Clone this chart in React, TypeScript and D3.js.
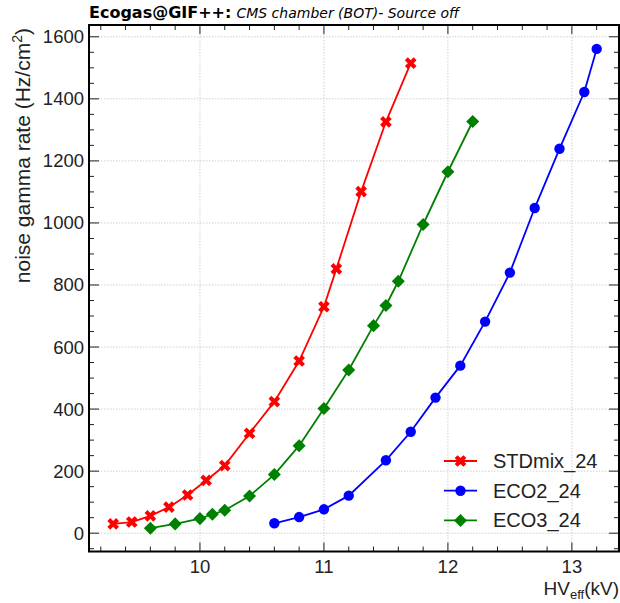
import React from 'react';
import * as d3 from 'd3';

// HV_eff (kV) and noise gamma rate (Hz/cm^2)
const stdHV = [9.3, 9.45, 9.6, 9.75, 9.9, 10.05, 10.2, 10.4, 10.6, 10.8, 11.0, 11.1, 11.3, 11.5, 11.7];
const stdRate = [30, 36, 56, 84, 123, 170, 218, 322, 424, 555, 730, 852, 1101, 1326, 1515];

const eco2HV = [10.6, 10.8, 11.0, 11.2, 11.5, 11.7, 11.9, 12.1, 12.3, 12.5, 12.7, 12.9, 13.1, 13.2];
const eco2Rate = [32, 52, 77, 121, 235, 327, 437, 540, 682, 840, 1048, 1239, 1422, 1561];

const eco3HV = [9.6, 9.8, 10.0, 10.1, 10.2, 10.4, 10.6, 10.8, 11.0, 11.2, 11.4, 11.5, 11.6, 11.8, 12.0, 12.2];
const eco3Rate = [16, 30, 47, 61, 74, 120, 189, 282, 402, 526, 669, 734, 812, 995, 1165, 1327];

const xTicks = [10, 11, 12, 13];
const yTicks = [0, 200, 400, 600, 800, 1000, 1200, 1400, 1600];

const W = 620, H = 603;
const left = 89, right = 619, top = 25, bottom = 551.5;

export default function App() {
  const x = d3.scaleLinear().domain([9.105, 13.38]).range([left, right]);
  const y = d3.scaleLinear().domain([-59, 1638]).range([bottom, top]);

  const xMinor = d3.range(9.2, 13.3, 0.2).filter(v => Math.abs(v - Math.round(v)) > 0.01);
  const yMinor = d3.range(-50, 1650, 50).filter(v => v % 200 !== 0);

  const series = [
    {name: 'STDmix_24', color: '#ff0000', xs: stdHV, ys: stdRate, sym: d3.symbolCross, size: 85, rot: 45},
    {name: 'ECO2_24', color: '#0000ff', xs: eco2HV, ys: eco2Rate, sym: d3.symbolCircle, size: 85, rot: 0},
    {name: 'ECO3_24', color: '#008000', xs: eco3HV, ys: eco3Rate, sym: d3.symbolSquare, size: 85, rot: 45},
  ];

  const line = d3.line<[number, number]>().x(d => x(d[0])).y(d => y(d[1]));
  const font = 'Liberation Sans, Arial, Helvetica, sans-serif';

  return (
    <svg width={W} height={H} style={{position: 'absolute', left: 0, top: 0, background: '#fff'}}>
      <rect width={W} height={H} fill="#fff" />
      {/* grid */}
      <g stroke="#cfcfcf" strokeWidth={1} strokeDasharray="1.5,1.5">
        {xTicks.map(t => <line key={'gx' + t} x1={x(t)} x2={x(t)} y1={top} y2={bottom} />)}
        {yTicks.map(t => <line key={'gy' + t} x1={left} x2={right} y1={y(t)} y2={y(t)} />)}
      </g>

      {/* series */}
      {series.map(s => {
        const pts = s.xs.map((v, i) => [v, s.ys[i]] as [number, number]);
        const sym = d3.symbol().type(s.sym).size(s.size)();
        return (
          <g key={s.name}>
            <path d={line(pts) || ''} fill="none" stroke={s.color} strokeWidth={1.8} />
            {pts.map((p, i) => (
              <path key={i} d={sym || ''} fill={s.color}
                transform={`translate(${x(p[0])},${y(p[1])}) rotate(${s.rot})`} />
            ))}
          </g>
        );
      })}

      {/* ticks, inward on all four sides */}
      <g stroke="#222" strokeWidth={1}>
        {xTicks.map(t => (
          <g key={'tx' + t}>
            <line x1={x(t)} x2={x(t)} y1={bottom} y2={bottom - 9} />
            <line x1={x(t)} x2={x(t)} y1={top} y2={top + 9} />
          </g>
        ))}
        {xMinor.map(t => (
          <g key={'mx' + t}>
            <line x1={x(t)} x2={x(t)} y1={bottom} y2={bottom - 5} />
            <line x1={x(t)} x2={x(t)} y1={top} y2={top + 5} />
          </g>
        ))}
        {yTicks.map(t => (
          <g key={'ty' + t}>
            <line x1={left} x2={left + 10} y1={y(t)} y2={y(t)} />
            <line x1={right} x2={right - 10} y1={y(t)} y2={y(t)} />
          </g>
        ))}
        {yMinor.map(t => (
          <g key={'my' + t}>
            <line x1={left} x2={left + 5} y1={y(t)} y2={y(t)} />
            <line x1={right} x2={right - 5} y1={y(t)} y2={y(t)} />
          </g>
        ))}
      </g>
      <rect x={left} y={top} width={right - left} height={bottom - top} fill="none" stroke="#000" strokeWidth={2} />

      {/* tick labels */}
      <g fontFamily={font} fontSize={18.5} fill="#222">
        {xTicks.map(t => (
          <text key={'lx' + t} x={x(t)} y={573} textAnchor="middle">{t}</text>
        ))}
        {yTicks.map(t => (
          <text key={'ly' + t} x={left - 5} y={y(t)} dy="0.35em" textAnchor="end">{t}</text>
        ))}
      </g>

      {/* axis titles */}
      <text x={right} y={595} textAnchor="end" fontFamily={font} fontSize={19} fill="#222">
        HV<tspan fontSize={13} dy={4}>eff</tspan><tspan dy={-4}>(kV)</tspan>
      </text>
      <text transform="translate(30,28) rotate(-90)" textAnchor="end" fontFamily={font} fontSize={21} fill="#222">
        noise gamma rate (Hz/cm<tspan fontSize={14} dy={-8}>2</tspan><tspan dy={8}>)</tspan>
      </text>

      {/* header */}
      <text x={89} y={18} fontFamily="DejaVu Sans, sans-serif" fill="#000">
        <tspan fontWeight="bold" fontSize={16}>Ecogas@GIF++:</tspan>
        <tspan fontStyle="italic" fontSize={14} dx={5}>CMS chamber (BOT)- Source off</tspan>
      </text>

      {/* legend */}
      {series.map((s, i) => {
        const ly = 461 + i * 29.7;
        const sym = d3.symbol().type(s.sym).size(s.size)();
        return (
          <g key={'leg' + s.name}>
            <line x1={444} x2={477} y1={ly} y2={ly} stroke={s.color} strokeWidth={1.8} />
            <path d={sym || ''} fill={s.color} transform={`translate(460.5,${ly}) rotate(${s.rot})`} />
            <text x={493} y={ly} dy="0.35em" fontFamily={font} fontSize={20} fill="#222">{s.name}</text>
          </g>
        );
      })}
    </svg>
  );
}
